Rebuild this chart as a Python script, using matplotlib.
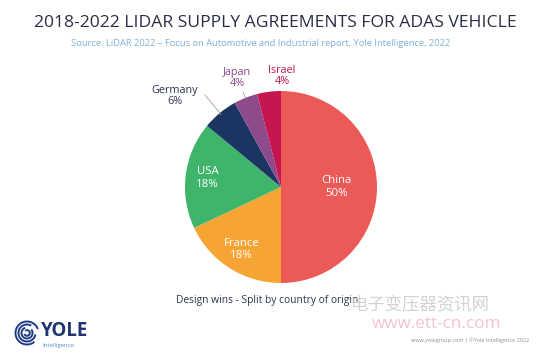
import matplotlib
matplotlib.use("Agg")
import matplotlib.pyplot as plt
import numpy as np
from matplotlib.patches import Arc

countries = ["China", "France", "USA", "Germany", "Japan", "Israel"]
shares = [50, 18, 18, 6, 4, 4]
colors = ["#EC5A57", "#F6A534", "#3FB46B", "#1C3462", "#8D4A8C", "#C5164F"]
label_colors = ["white", "white", "white", "#2B3550", "#8D4A8C", "#C5164F"]
inside = [True, True, True, False, False, False]

plt.rcParams['font.family'] = ['Open Sans', 'Noto Sans CJK SC', 'DejaVu Sans']

fig = plt.figure(figsize=(5.5, 3.55), dpi=100)
W, H = 550, 355
cx, cy, R = 281, 187, 96
half = 110
ax = fig.add_axes([(cx - half) / W, (H - cy - half) / H, 2 * half / W, 2 * half / H])
ax.set_xlim(-half, half)
ax.set_ylim(-half, half)
ax.set_aspect('equal')
ax.axis('off')

wedges, _ = ax.pie(shares, colors=colors, startangle=90, counterclock=False,
                   radius=R, center=(0, 0), wedgeprops=dict(linewidth=0))
ax.set_xlim(-half, half)
ax.set_ylim(-half, half)

inside_dist = {"China": 0.58, "France": 0.77, "USA": 0.77}
outside_xy = {"Germany": (-106, 91), "Japan": (-44, 109), "Israel": (1, 111)}
for w, c, s, lc, ins in zip(wedges, countries, shares, label_colors, inside):
    mid = np.deg2rad((w.theta1 + w.theta2) / 2)
    if ins:
        d = inside_dist[c] * R
        ax.text(d * np.cos(mid), d * np.sin(mid), f"{c}\n{s}%", color=lc,
                ha='center', va='center', fontsize=8.2, linespacing=1.2)
    else:
        tx, ty = outside_xy[c]
        ax.text(tx, ty, f"{c}\n{s}%", color=lc, ha='center', va='center',
                fontsize=7.8, linespacing=1.1, clip_on=False)

# leader lines
g = wedges[3]; gm = np.deg2rad((g.theta1 + g.theta2) / 2)
ax.plot([-76, R * np.cos(gm) * 0.98], [92, R * np.sin(gm) * 0.98], color="#9AA3B0", lw=0.6, clip_on=False)
j = wedges[4]; jm = np.deg2rad((j.theta1 + j.theta2) / 2)
ax.plot([-38, R * np.cos(jm) * 0.99], [95, R * np.sin(jm) * 0.99], color="#9AA3B0", lw=0.6, clip_on=False)

def fx(x): return x / W
def fy(y): return 1 - y / H

fig.text(fx(275), fy(23), "2018-2022 LIDAR SUPPLY AGREEMENTS FOR ADAS VEHICLE",
         ha='center', va='center', fontsize=12.6, color="#2B2F45")
fig.text(fx(261), fy(44), "Source: LiDAR 2022 – Focus on Automotive and Industrial report, Yole Intelligence, 2022",
         ha='center', va='center', fontsize=6.75, color="#7FB0D8")
fig.text(fx(267), fy(300), "Design wins - Split by country of origin",
         ha='center', va='center', fontsize=7.4, color="#2B3550")

# watermark
fig.text(fx(420), fy(305), "电子变压器资讯网", ha='center', va='center', fontsize=12.5, color="#D2D2D5")
fig.text(fx(437), fy(324), "www.ett-cn.com", ha='center', va='center', fontsize=12.3, color="#F4C2D3")
fig.text(fx(470), fy(340), "www.yolegroup.com | ©Yole Intelligence 2022",
         ha='center', va='center', fontsize=4.0, color="#8A8F99")

# logo
lax = fig.add_axes([fx(14), fy(346), 26 / W, 26 / H])
lax.set_xlim(-13, 13); lax.set_ylim(-13, 13); lax.set_aspect('equal'); lax.axis('off')
for r, a0 in [(11.5, 20), (8.5, 60), (5.5, 110), (2.8, 200)]:
    lax.add_patch(Arc((0, 0), 2 * r, 2 * r, theta1=a0, theta2=a0 + 290, color="#1F3C88", lw=1.4))
fig.text(fx(41), fy(331), "YOLE", ha='left', va='center', fontsize=13.5, fontweight='bold', color="#1F3470")
fig.text(fx(42), fy(346), "Intelligence", ha='left', va='center', fontsize=4.3, color="#4F8FD0")

fig.savefig("out.png", dpi=100, facecolor="white")
